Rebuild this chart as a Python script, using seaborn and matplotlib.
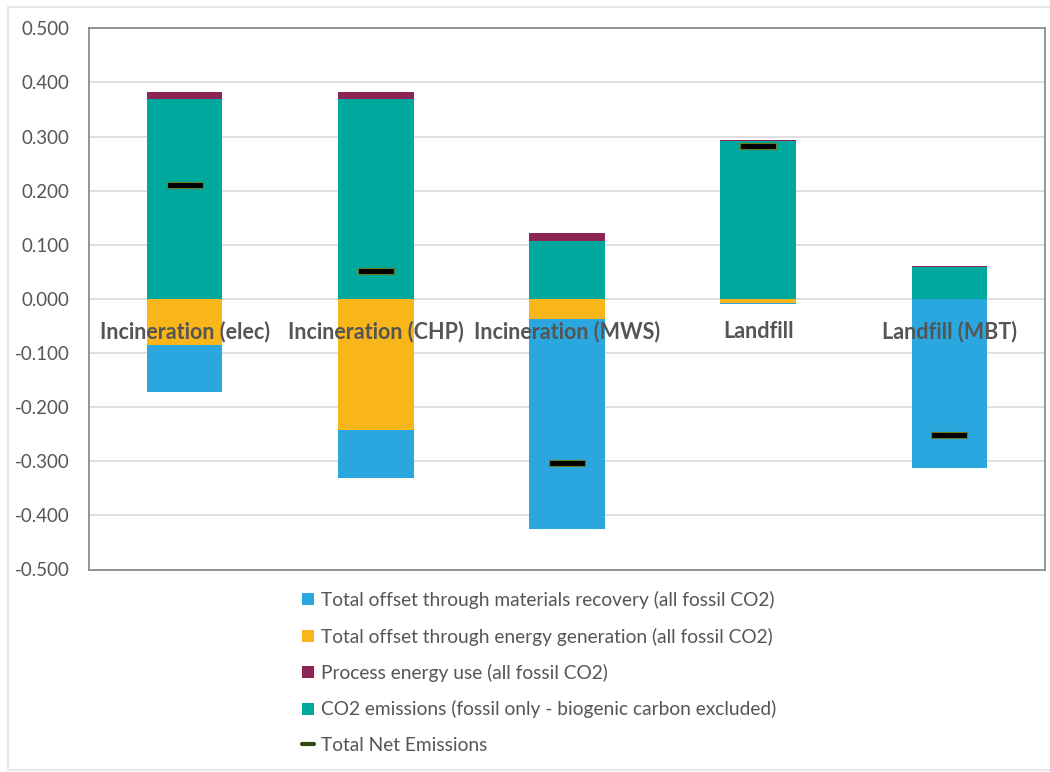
import numpy as np
import pandas as pd
import seaborn as sns
import matplotlib
matplotlib.use("Agg")
import matplotlib.pyplot as plt
from matplotlib.patches import Patch, Rectangle
from matplotlib.lines import Line2D
from matplotlib.path import Path

# Emission components per treatment route (t CO2 per t waste)
routes = ["Incineration (elec)", "Incineration (CHP)", "Incineration (MWS)", "Landfill", "Landfill (MBT)"]
co2_emissions = [0.369, 0.369, 0.107, 0.291, 0.059]
process_energy = [0.014, 0.013, 0.014, 0.002, 0.001]
energy_offset = [-0.085, -0.242, -0.037, -0.007, 0.000]
materials_offset = [-0.087, -0.089, -0.388, -0.003, -0.312]
net_emissions = [0.211, 0.051, -0.304, 0.283, -0.252]

yticks = [-0.5, -0.4, -0.3, -0.2, -0.1, 0.0, 0.1, 0.2, 0.3, 0.4, 0.5]

C_TEAL = "#00A89D"
C_PURPLE = "#8C2455"
C_YELLOW = "#F9B61A"
C_BLUE = "#2AA7DF"
C_TEXT = "#555555"

df = pd.DataFrame({
    "route": routes,
    "co2": co2_emissions,
    "process": process_energy,
    "energy": energy_offset,
    "materials": materials_offset,
    "net": net_emissions,
})
df["pos_total"] = df["co2"] + df["process"]
df["neg_total"] = df["energy"] + df["materials"]

sns.set_theme(style="white")
plt.rcParams["font.family"] = ["Lato", "DejaVu Sans"]

fig = plt.figure(figsize=(10.5, 7.72), dpi=100)
ax = fig.add_axes([89 / 1050, 1 - 569.5 / 772, (1045 - 89) / 1050, (569.5 - 28.3) / 772])

bw = 0.395
# stacked bars: draw cumulative totals first, then the inner segment on top
sns.barplot(data=df, x="route", y="pos_total", color=C_PURPLE, width=bw,
            saturation=1, ax=ax, order=routes, linewidth=0, zorder=2)
sns.barplot(data=df, x="route", y="co2", color=C_TEAL, width=bw,
            saturation=1, ax=ax, order=routes, linewidth=0, zorder=2)
sns.barplot(data=df, x="route", y="neg_total", color=C_BLUE, width=bw,
            saturation=1, ax=ax, order=routes, linewidth=0, zorder=2)
sns.barplot(data=df, x="route", y="energy", color=C_YELLOW, width=bw,
            saturation=1, ax=ax, order=routes, linewidth=0, zorder=2)

# net emission markers: flat black bars with an olive rim
rect_marker = Path([(-1, -0.17), (1, -0.17), (1, 0.17), (-1, 0.17), (-1, -0.17)],
                   [Path.MOVETO, Path.LINETO, Path.LINETO, Path.LINETO, Path.CLOSEPOLY])
sns.scatterplot(data=df, x="route", y="net", marker=rect_marker, s=680,
                color="black", edgecolor="#6B7A1E", linewidth=0.8, ax=ax,
                zorder=4, legend=False)

ax.set_xlim(-0.5, len(routes) - 0.5)
ax.set_ylim(-0.5, 0.5)
ax.set_yticks(yticks)
ax.set_yticklabels([f"{v:.3f}" for v in yticks], color=C_TEXT, fontsize=13.5)
ax.tick_params(axis="y", length=0, pad=14)
ax.set_xticks([])
ax.set_xlabel("")
ax.set_ylabel("")
ax.yaxis.grid(True, color="#D9D9D9", linewidth=1.2, zorder=1)
ax.set_axisbelow(True)
for side in ["left", "right", "top", "bottom"]:
    ax.spines[side].set_visible(True)
    ax.spines[side].set_color("#8C8C8C")
    ax.spines[side].set_linewidth(1.3)

# category labels sit just under the zero line
for i, name in enumerate(routes):
    ax.text(i, -0.060, name, ha="center", va="center", fontsize=15.5,
            fontweight="bold", color=C_TEXT, zorder=5)

handles = [
    Patch(facecolor=C_BLUE, edgecolor="none"),
    Patch(facecolor=C_YELLOW, edgecolor="none"),
    Patch(facecolor=C_PURPLE, edgecolor="none"),
    Patch(facecolor=C_TEAL, edgecolor="none"),
    Line2D([0], [0], color="#2F4A12", linewidth=3),
]
labels = [
    "Total offset through materials recovery (all fossil CO2)",
    "Total offset through energy generation (all fossil CO2)",
    "Process energy use (all fossil CO2)",
    "CO2 emissions (fossil only - biogenic carbon excluded)",
    "Total Net Emissions",
]
leg = fig.legend(handles, labels, loc="upper left",
                 bbox_to_anchor=(302 / 1050, 1 - 591 / 772),
                 frameon=False, fontsize=13.8, labelcolor=C_TEXT,
                 handlelength=0.6, handleheight=0.6, handletextpad=0.4,
                 labelspacing=0.96, borderpad=0, borderaxespad=0)

fig.patches.append(Rectangle((8 / 1050, 2 / 772), 1045 / 1050, (765 - 2) / 772,
                             transform=fig.transFigure, fill=False,
                             edgecolor="#E3E3E3", linewidth=1.2))

fig.savefig("out.png", dpi=100, facecolor="white")
